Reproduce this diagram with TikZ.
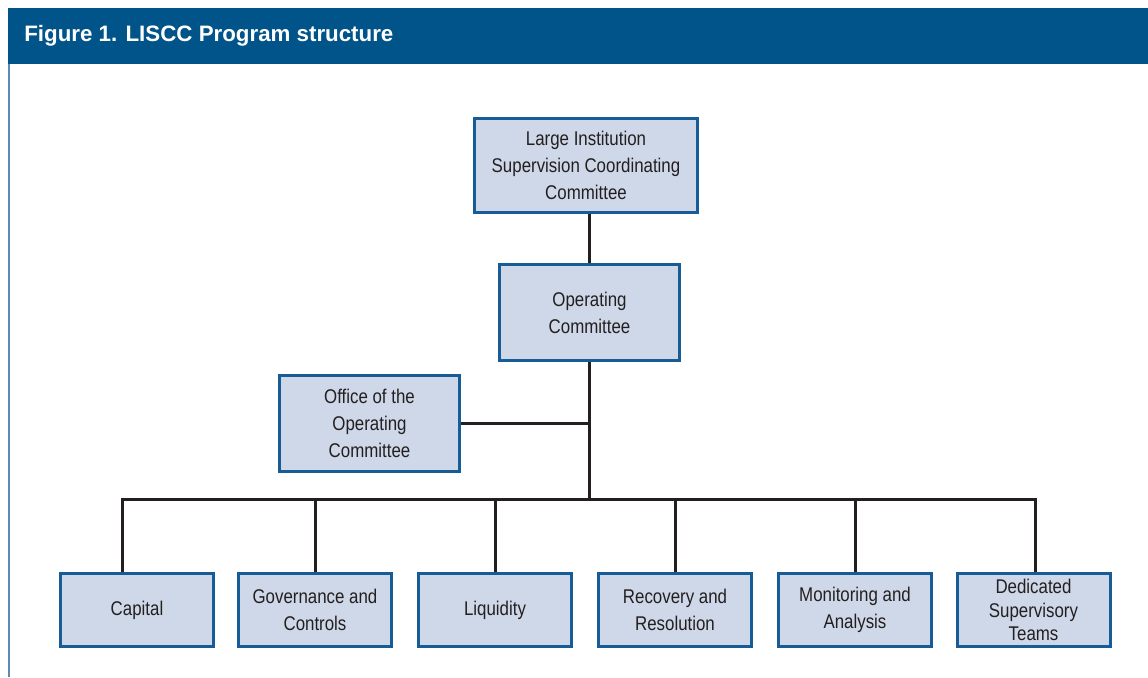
\documentclass[tikz,border=0pt]{standalone}
\usepackage{fontspec}
\setmainfont{Liberation Sans}[FakeStretch=0.85]
\newfontfamily\headfont{Liberation Sans}
\usepackage{tikz}
\usetikzlibrary{positioning,calc}

\definecolor{headblue}{HTML}{00548A}
\definecolor{rimblue}{HTML}{5B8AB8}
\definecolor{boxfill}{HTML}{CFD8E8}
\definecolor{boxline}{HTML}{175C97}
\definecolor{inkgray}{HTML}{231F20}

\begin{document}
\begin{tikzpicture}[
		x=0.02cm, y=-0.02cm,
		unit/.style={draw=boxline, fill=boxfill, line width=0.06cm,
				inner sep=0pt, align=center, text=inkgray,
				font=\fontsize{11.3}{15.4}\selectfont},
		team/.style={unit, minimum width=3.06cm, minimum height=1.46cm},
		link/.style={draw=inkgray, line width=0.06cm}]

	% frame
	\fill[white] (0,0) rectangle (1148,677);
	\fill[headblue] (8,8) rectangle (1148,64);
	\draw[rimblue, line width=0.035cm] (9,64) -- (9,677);
	\node[anchor=base west, text=white, inner sep=0pt,
		font=\headfont\fontsize{12.7}{14}\selectfont\bfseries] (title) at (24,42)
	{Figure 1. LISCC Program structure};

	% Top levels
	\node[unit, minimum width=4.46cm, minimum height=1.88cm] (liscc) at (586,165.5)
	{Large Institution\\Supervision Coordinating\\Committee};
	\node[unit, minimum width=3.6cm, minimum height=1.92cm] (opcom) at (589.5,312.5)
	{Operating\\Committee};
	\node[unit, minimum width=3.6cm, minimum height=1.94cm] (office) at (369.5,423.5)
	{Office of the\\Operating\\Committee};

	% Teams row
	\node[team] (capital) at (137,610) {Capital};
	\node[team] (govern)  at (315,610) {Governance and\\Controls};
	\node[team] (liquid)  at (495,610) {Liquidity};
	\node[team] (recover) at (675,610) {Recovery and\\Resolution};
	\node[team] (monitor) at (855,610) {Monitoring and\\Analysis};
	\node[team, font=\fontsize{11.3}{13.6}\selectfont] (dedic) at (1033.5,610)
	{Dedicated\\Supervisory\\Teams};

	% connectors
	\coordinate (busL) at (122,499);
	\coordinate (busR) at (1035,499);
	\draw[link] (opcom.north) -- (opcom.north |- liscc.south);
	\draw[link] (opcom.south) -- (opcom.south |- busL);
	\draw[link] (office.east) -- (office.east -| opcom.south);
	\draw[link, line cap=rect] (busL) -- (busR);
	\draw[link] (busL) -- (busL |- capital.north);
	\draw[link] (busR) -- (busR |- dedic.north);
	\foreach \n in {govern,liquid,recover,monitor}
		\draw[link] (\n.north |- busL) -- (\n.north);

\end{tikzpicture}
\end{document}
